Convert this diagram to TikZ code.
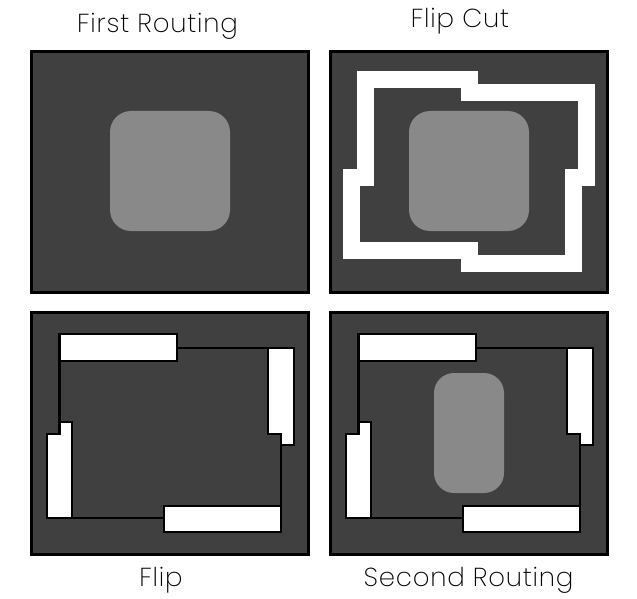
\documentclass[tikz,border=0pt]{standalone}
\usepackage{fontspec}
\setmainfont{Poppins ExtraLight}[LetterSpace=3]
\usepackage{xcolor}
\definecolor{panelgray}{RGB}{64,64,64}
\definecolor{netgray}{RGB}{137,137,137}
\tikzset{
  panel/.style={fill=panelgray, draw=black, line width=3pt},
  net/.style={fill=netgray},
  cutband/.style={draw=white, line width=17pt, line join=miter},
  leftover/.style={fill=white, draw=black, line width=2.3pt},
  rim/.style={draw=black, line width=2.3pt},
  caption/.style={anchor=base, inner sep=0pt, font=\fontsize{26}{30}\selectfont}
}
\begin{document}
\begin{tikzpicture}[x=1pt, y=-1pt]
  \useasboundingbox (0,0) rectangle (637,599);

  % the four panels
  \def\fstpanel{(31.5,51.5) rectangle (308.5,292.5)}
  \def\sndpanel{(330.5,51.5) rectangle (607.5,292.5)}
  \def\trdpanel{(31.5,312.5) rectangle (308.5,554.5)}
  \def\fthpanel{(330.5,312.5) rectangle (607.5,554.5)}
  \draw[panel] \fstpanel;
  \draw[panel] \sndpanel;
  \draw[panel] \trdpanel;
  \draw[panel] \fthpanel;

  % first routing and flip cut
  \fill[net, rounded corners=21pt] (110,111) rectangle (230,231);
  \fill[net, rounded corners=21pt] (409,111) rectangle (529,231);
  \draw[cutband] (365.5,79.5) -- (469.5,79.5) -- (469.5,92.5) -- (586.5,92.5)
    -- (586.5,177.5) -- (573.5,177.5) -- (573.5,263.5) -- (469.5,263.5)
    -- (469.5,250) -- (351.5,250) -- (351.5,177.5) -- (365.5,177.5) -- cycle;

  % flipped region, drawn twice
  \def\flipped{
    \draw[leftover] (59.5,334) rectangle (177,361);
    \draw[leftover] (268,348) -- (294,348) -- (294,445) -- (281,445)
      -- (281,434) -- (268,434) -- cycle;
    \draw[leftover] (164,506) rectangle (281,532);
    \draw[leftover] (59.5,422) -- (72,422) -- (72,518) -- (47,518)
      -- (47,434) -- (59.5,434) -- cycle;
    \draw[rim] (59.5,334) -- (177,334) -- (177,348) -- (294,348) -- (294,445)
      -- (281,445) -- (281,532) -- (164,532) -- (164,518) -- (47,518)
      -- (47,434) -- (59.5,434) -- cycle;
  }
  \flipped
  \begin{scope}[xshift=299pt]
    \flipped
  \end{scope}
  \fill[net, rounded corners=20pt] (434,373) rectangle (504,493);

  % captions
  \node[caption] (first) at (157.5,33) {First Routing};
  \node[caption] (cut) at (460,28) {Flip Cut};
  \node[caption] (flip) at (161,586) {Flip};
  \node[caption] (second) at (468.5,586) {Second Routing};
\end{tikzpicture}
\end{document}
